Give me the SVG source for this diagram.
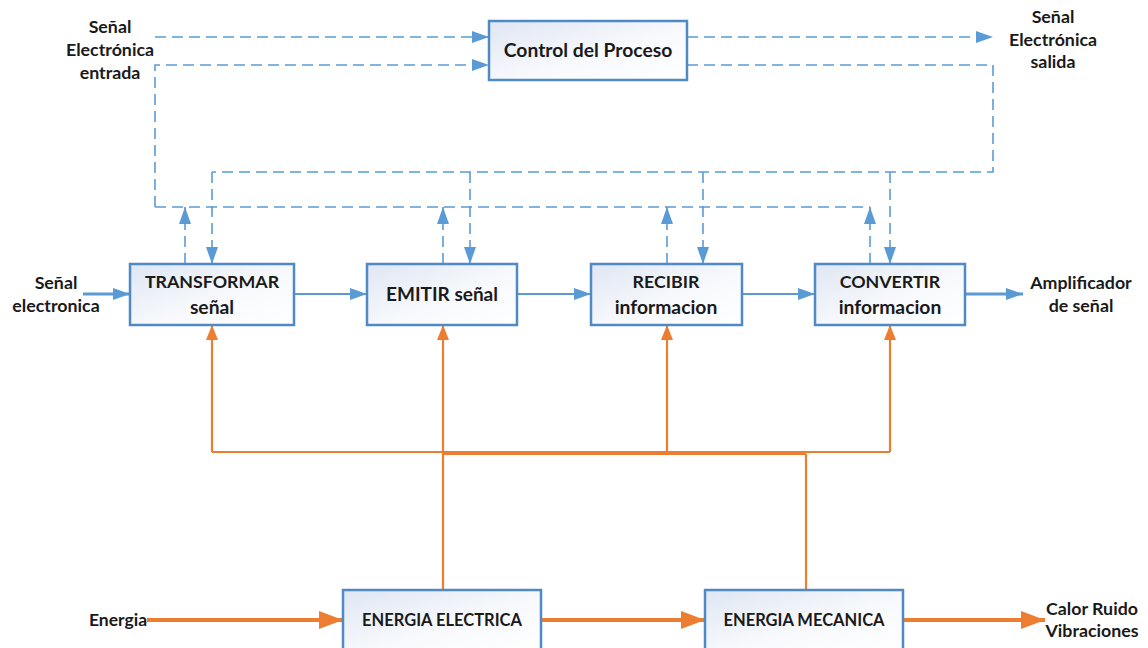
<svg xmlns="http://www.w3.org/2000/svg" width="1148" height="648" viewBox="0 0 1148 648">
<defs>
<linearGradient id="bx" x1="0" y1="0" x2="1" y2="1">
<stop offset="0" stop-color="#dfe6f3"/>
<stop offset="0.55" stop-color="#f7f9fc"/>
<stop offset="1" stop-color="#ffffff"/>
</linearGradient>
<marker id="ab" markerUnits="userSpaceOnUse" markerWidth="18" markerHeight="12" refX="17" refY="6" orient="auto" viewBox="0 0 18 12">
<path d="M0,0 L17,6 L0,12 z" fill="#5b9bd5"/>
</marker>
<marker id="ao" markerUnits="userSpaceOnUse" markerWidth="15" markerHeight="12" refX="15" refY="6" orient="auto" viewBox="0 0 15 12">
<path d="M0,0 L15,6 L0,12 z" fill="#ed7d31"/>
</marker>
<marker id="aoL" markerUnits="userSpaceOnUse" markerWidth="24" markerHeight="18" refX="24" refY="9" orient="auto" viewBox="0 0 24 18">
<path d="M0,0 L24,9 L0,18 z" fill="#ed7d31"/>
</marker>
</defs>
<style>
.box{fill:url(#bx);stroke:#4f89c6;stroke-width:2.5}
.t{font-family:Lato,"Open Sans",sans-serif;font-weight:bold;font-size:17.8px;fill:#1a1a1a;text-anchor:middle}
.l{font-size:19.3px}
.e{font-size:16.5px}
.d{fill:none;stroke:#5b9bd5;stroke-width:1.6;stroke-dasharray:11 6}
.s{fill:none;stroke:#5b9bd5;stroke-width:2}
.o{fill:none;stroke:#ed7d31;stroke-width:2.2}
.oL{fill:none;stroke:#ed7d31;stroke-width:4}
</style>
<rect width="1148" height="648" fill="#ffffff"/>
<g id="connectors">
<path class="d" d="M155,37 H489" marker-end="url(#ab)"/>
<path class="d" d="M155,207 V65 H489" marker-end="url(#ab)"/>
<path class="d" d="M687,37 H993" marker-end="url(#ab)"/>
<path class="d" d="M155,207 H870"/>
<path class="d" d="M185,264 V207" marker-end="url(#ab)"/>
<path class="d" d="M443,264 V207" marker-end="url(#ab)"/>
<path class="d" d="M667,264 V207" marker-end="url(#ab)"/>
<path class="d" d="M870,264 V207" marker-end="url(#ab)"/>
<path class="d" d="M687,65 H993 V172 H212"/>
<path class="d" d="M212,172 V264" marker-end="url(#ab)"/>
<path class="d" d="M470,172 V264" marker-end="url(#ab)"/>
<path class="d" d="M703,172 V264" marker-end="url(#ab)"/>
<path class="d" d="M890,172 V264" marker-end="url(#ab)"/>
<path class="s" style="stroke-width:3" d="M83,294 H130" marker-end="url(#ab)"/>
<path class="s" d="M294,294 H367" marker-end="url(#ab)"/>
<path class="s" d="M517,294 H591" marker-end="url(#ab)"/>
<path class="s" d="M742,294 H815" marker-end="url(#ab)"/>
<path class="s" style="stroke-width:3" d="M965,294 H1023" marker-end="url(#ab)"/>
<path class="o" d="M212,452 H890"/>
<path class="o" d="M443,454 H806"/>
<path class="o" d="M212,452 V325" marker-end="url(#ao)"/>
<path class="o" d="M443,590 V325" marker-end="url(#ao)"/>
<path class="o" d="M667,452 V325" marker-end="url(#ao)"/>
<path class="o" d="M890,452 V325" marker-end="url(#ao)"/>
<path class="o" d="M806,590 V454"/>
<path class="oL" d="M147,620 H343" marker-end="url(#aoL)"/>
<path class="oL" d="M541,620 H705" marker-end="url(#aoL)"/>
<path class="oL" d="M903,620 H1045" marker-end="url(#aoL)"/>
</g>
<g id="control">
<rect class="box" x="489" y="21" width="198" height="59"/>
<text class="t" x="588" y="57" style="font-size:19.3px">Control del Proceso</text>
</g>
<g id="transformar">
<rect class="box" x="130" y="264" width="164" height="61"/>
<text class="t" x="212" y="288">TRANSFORMAR</text>
<text class="t l" x="212" y="314">señal</text>
</g>
<g id="emitir">
<rect class="box" x="367" y="264" width="150" height="61"/>
<text class="t" x="442" y="301" style="font-size:19px">EMITIR señal</text>
</g>
<g id="recibir">
<rect class="box" x="591" y="264" width="151" height="61"/>
<text class="t" x="666" y="288">RECIBIR</text>
<text class="t l" x="666" y="314">informacion</text>
</g>
<g id="convertir">
<rect class="box" x="815" y="264" width="150" height="61"/>
<text class="t" x="890" y="288">CONVERTIR</text>
<text class="t l" x="890" y="314">informacion</text>
</g>
<g id="electrica">
<rect class="box" x="343" y="590" width="198" height="62"/>
<text class="t e" x="442" y="626">ENERGIA ELECTRICA</text>
</g>
<g id="mecanica">
<rect class="box" x="705" y="590" width="198" height="62"/>
<text class="t e" x="804" y="626">ENERGIA MECANICA</text>
</g>
<g id="labels">
<text class="t" x="110" y="33">Señal</text>
<text class="t" x="110" y="56">Electrónica</text>
<text class="t" x="110" y="79">entrada</text>
<text class="t" x="1053" y="23">Señal</text>
<text class="t" x="1053" y="46">Electrónica</text>
<text class="t" x="1053" y="68">salida</text>
<text class="t" x="56" y="289">Señal</text>
<text class="t" x="56" y="312">electronica</text>
<text class="t" x="1081" y="289">Amplificador</text>
<text class="t" x="1081" y="312">de señal</text>
<text class="t" x="118" y="626" style="font-size:17.5px">Energia</text>
<text class="t" x="1092" y="615">Calor Ruido</text>
<text class="t" x="1092" y="637">Vibraciones</text>
</g>
</svg>
